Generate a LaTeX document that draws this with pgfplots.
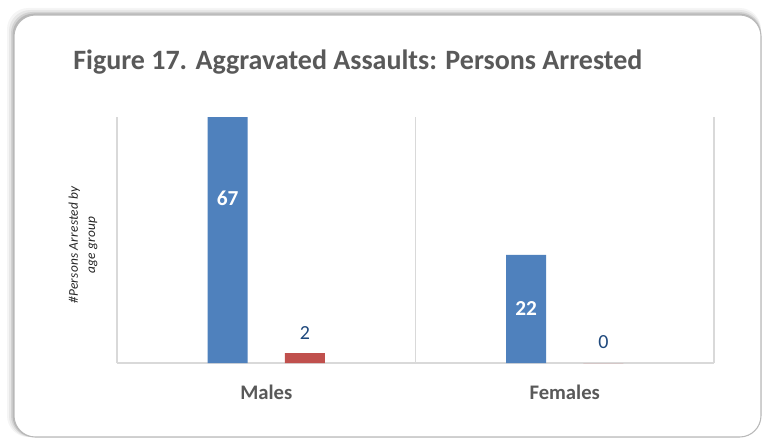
\documentclass[border=0pt]{standalone}
\usepackage{pgfplots}
\pgfplotsset{compat=1.18}
\usepackage{pgfplotstable}
\usepackage{fontspec}
\setmainfont{Carlito}
\definecolor{cblue}{HTML}{4F81BD}
\definecolor{cred}{HTML}{C0504D}
\definecolor{titlegray}{HTML}{595959}
\definecolor{gridgray}{HTML}{D9D9D9}
\definecolor{labblue}{HTML}{1F497D}
\pgfplotstableread{
x blue red
0 67 2
1 22 0
}\datatable
\begin{document}
\begin{tikzpicture}[x=0.75pt,y=0.75pt]
\path[use as bounding box] (0,0) rectangle (764,440);
\foreach \i/\op in {7/0.04,5/0.06,3/0.09,1.5/0.12}{
  \fill[black,opacity=\op,rounded corners=16pt] (14-\i,3) rectangle (761,425+\i);
}
\draw[gray!55, line width=0.8pt, fill=white, rounded corners=16pt] (14,3) rectangle (761,425);
\node[anchor=base west, text=titlegray, font=\bfseries\fontsize{21}{24}\selectfont, inner sep=0pt] at (73,370) {Figure 17. Aggravated Assaults: Persons Arrested};
\node[rotate=90, align=center, text=black!85, font=\itshape\addfontfeatures{LetterSpace=2}\fontsize{10}{13}\selectfont] at (83,195) {\#Persons Arrested by\\age group};
\begin{axis}[at={(87.75pt,57.75pt)}, anchor=south west, scale only axis,
  width=447.75pt, height=184.5pt,
  xmin=-0.5, xmax=1.5, ymin=0, ymax=50,
  ybar, bar width=30pt,
  axis x line=bottom, axis y line=none,
  axis line style={draw=gridgray, line width=0.8pt, -},
  xtick={0,1}, xticklabels={Males,Females},
  minor xtick={-0.5,0.5,1.5}, xminorgrids,
  minor grid style={draw=gridgray, line width=0.8pt},
  major tick length=0pt, minor tick length=0pt,
  xticklabel style={font=\bfseries\fontsize{15.5}{18}\selectfont, text=titlegray, yshift=-13pt},
  ytick=\empty,
  /pgf/number format/assume math mode=true]
\addplot[fill=cblue, draw=none, bar shift=-29pt] table[x=x,y=blue]{\datatable};
\addplot[fill=cred, draw=none, bar shift=29pt, nodes near coords,
  every node near coord/.append style={font=\fontsize{15}{17}\selectfont, text=labblue, yshift=7pt}]
  table[x=x,y=red]{\datatable};
\addplot[draw=none, fill=none, bar shift=-29pt, nodes near coords, point meta=explicit,
  every node near coord/.append style={anchor=center, font=\bfseries\fontsize{16}{18}\selectfont, text=white}]
  table[x=x, y expr=\thisrow{blue}/2, meta=blue]{\datatable};
\end{axis}
\end{tikzpicture}
\end{document}
